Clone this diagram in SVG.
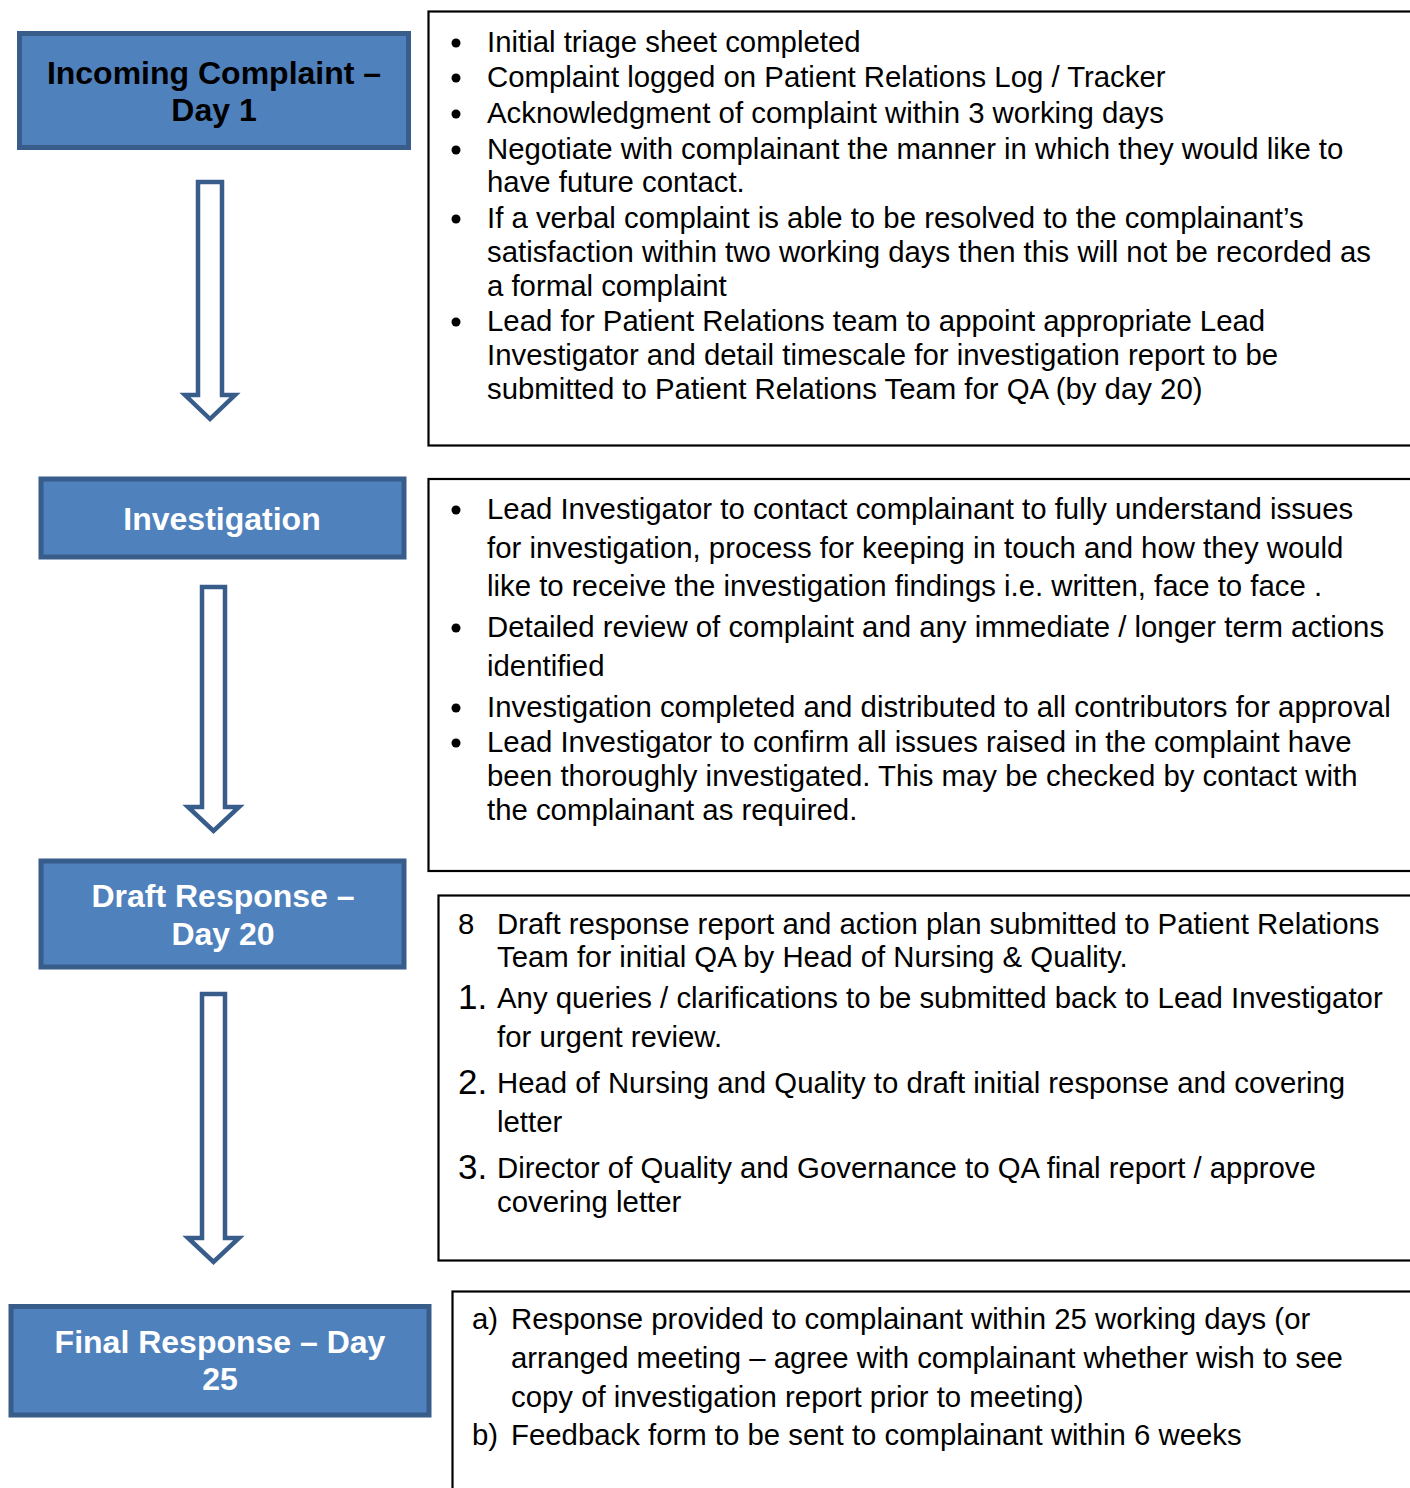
<svg xmlns="http://www.w3.org/2000/svg" width="1410" height="1488" viewBox="0 0 1410 1488">
<style>
.stage{fill:#4F81BD;stroke:#385D8A;stroke-width:5}
.title{font-family:"Liberation Sans",Arial,sans-serif;font-weight:bold;font-size:32px;text-anchor:middle}
.wt{fill:#ffffff}
.bk{fill:#000000}
.box{fill:#ffffff;stroke:#000000;stroke-width:2.2}
.txt{font-family:"Liberation Sans",Arial,sans-serif;font-size:29.35px;fill:#000000}
.num{font-family:"Liberation Sans",Arial,sans-serif;font-size:35px;fill:#000000}
.arrow{fill:#ffffff;stroke:#385D8A;stroke-width:4.5;stroke-linejoin:miter}
</style>
<rect width="1410" height="1488" fill="#ffffff"/>

<g id="connectors">
<path class="arrow" d="M198,182 H222 V395 H235 L210,419 L185,395 H198 Z"/>
<path class="arrow" d="M202,587 H225 V807 H239 L213.5,831 L188,807 H202 Z"/>
<path class="arrow" d="M202,994 H225 V1238 H239 L213.5,1262 L188,1238 H202 Z"/>
</g>

<g id="node-incoming">
<rect class="stage" x="19.5" y="33.5" width="389" height="114"/>
<text class="title bk" x="214" y="84">Incoming Complaint –</text>
<text class="title bk" x="214" y="121">Day 1</text>
</g>

<g id="node-investigation">
<rect class="stage" x="41" y="479" width="363" height="78"/>
<text class="title wt" x="222" y="530">Investigation</text>
</g>

<g id="node-draft">
<rect class="stage" x="41" y="861" width="363" height="106"/>
<text class="title wt" x="223" y="907">Draft Response –</text>
<text class="title wt" x="223" y="945">Day 20</text>
</g>

<g id="node-final">
<rect class="stage" x="11" y="1306.5" width="418" height="108.5"/>
<text class="title wt" x="220" y="1353">Final Response – Day</text>
<text class="title wt" x="220" y="1390">25</text>
</g>

<g id="node-incoming-details">
<rect class="box" x="428.5" y="11.5" width="1000" height="434"/>
<g fill="#000000">
<circle cx="456" cy="43" r="4.5"/>
<circle cx="456" cy="78" r="4.5"/>
<circle cx="456" cy="114" r="4.5"/>
<circle cx="456" cy="150" r="4.5"/>
<circle cx="456" cy="219" r="4.5"/>
<circle cx="456" cy="322" r="4.5"/>
</g>
<text class="txt" x="487" y="52">Initial triage sheet completed</text>
<text class="txt" x="487" y="87">Complaint logged on Patient Relations Log / Tracker</text>
<text class="txt" x="487" y="123">Acknowledgment of complaint within 3 working days</text>
<text class="txt" x="487" y="159">Negotiate with complainant the manner in which they would like to</text>
<text class="txt" x="487" y="192">have future contact.</text>
<text class="txt" x="487" y="228">If a verbal complaint is able to be resolved to the complainant’s</text>
<text class="txt" x="487" y="262">satisfaction within two working days then this will not be recorded as</text>
<text class="txt" x="487" y="296">a formal complaint</text>
<text class="txt" x="487" y="331">Lead for Patient Relations team to appoint appropriate Lead</text>
<text class="txt" x="487" y="365">Investigator and detail timescale for investigation report to be</text>
<text class="txt" x="487" y="399">submitted to Patient Relations Team for QA (by day 20)</text>
</g>

<g id="node-investigation-details">
<rect class="box" x="428.5" y="479" width="1000" height="392"/>
<g fill="#000000">
<circle cx="456" cy="510" r="4.5"/>
<circle cx="456" cy="628" r="4.5"/>
<circle cx="456" cy="708" r="4.5"/>
<circle cx="456" cy="743" r="4.5"/>
</g>
<text class="txt" x="487" y="519">Lead Investigator to contact complainant to fully understand issues</text>
<text class="txt" x="487" y="558">for investigation, process for keeping in touch and how they would</text>
<text class="txt" x="487" y="596">like to receive the investigation findings i.e. written, face to face .</text>
<text class="txt" x="487" y="637">Detailed review of complaint and any immediate / longer term actions</text>
<text class="txt" x="487" y="676">identified</text>
<text class="txt" x="487" y="717">Investigation completed and distributed to all contributors for approval</text>
<text class="txt" x="487" y="752">Lead Investigator to confirm all issues raised in the complaint have</text>
<text class="txt" x="487" y="786">been thoroughly investigated. This may be checked by contact with</text>
<text class="txt" x="487" y="820">the complainant as required.</text>
</g>

<g id="node-draft-details">
<rect class="box" x="438.5" y="895.5" width="1000" height="365"/>
<text class="txt" x="458" y="934">8</text>
<text class="txt" x="497" y="934">Draft response report and action plan submitted to Patient Relations</text>
<text class="txt" x="497" y="967">Team for initial QA by Head of Nursing &amp; Quality.</text>
<text class="num" x="458" y="1009">1.</text>
<text class="txt" x="497" y="1008">Any queries / clarifications to be submitted back to Lead Investigator</text>
<text class="txt" x="497" y="1047">for urgent review.</text>
<text class="num" x="458" y="1094">2.</text>
<text class="txt" x="497" y="1093">Head of Nursing and Quality to draft initial response and covering</text>
<text class="txt" x="497" y="1132">letter</text>
<text class="num" x="458" y="1179">3.</text>
<text class="txt" x="497" y="1178">Director of Quality and Governance to QA final report / approve</text>
<text class="txt" x="497" y="1212">covering letter</text>
</g>

<g id="node-final-details">
<rect class="box" x="452.5" y="1291.5" width="1000" height="300"/>
<text class="txt" x="472" y="1329">a)</text>
<text class="txt" x="511" y="1329">Response provided to complainant within 25 working days (or</text>
<text class="txt" x="511" y="1368">arranged meeting – agree with complainant whether wish to see</text>
<text class="txt" x="511" y="1407">copy of investigation report prior to meeting)</text>
<text class="txt" x="472" y="1445">b)</text>
<text class="txt" x="511" y="1445">Feedback form to be sent to complainant within 6 weeks</text>
</g>
</svg>
